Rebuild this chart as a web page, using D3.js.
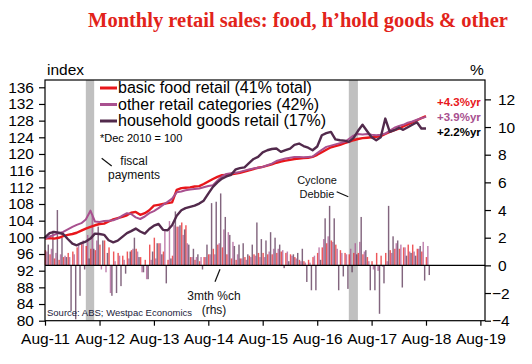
<!DOCTYPE html>
<html>
<head>
<meta charset="utf-8">
<script src="https://cdn.jsdelivr.net/npm/d3@7"></script>
<style>
  body { margin: 0; background: #fff; }
  svg { display: block; font-family: Arial, "Liberation Sans", sans-serif; }
</style>
</head>
<body>
<svg id="canvas" width="532" height="364"></svg>
<script>
// monthly index, Dec 2010 = 100, Aug-11 .. Aug-18
let foodIndex = [
  99.7, 99.8, 99.7, 99.9, 100.3, 100.6, 100.8, 101.1, 101.6, 102.1, 102.5, 102.9,
  103.2, 103.3, 103.8, 104.3, 104.6, 104.9, 105.3, 105.9, 106.1, 105.4, 105.8, 106.5,
  107.6, 107.8, 108.0, 108.2, 108.4, 111.4, 111.8, 111.9, 112.0, 112.2, 112.3, 112.8,
  113.4, 114.0, 114.5, 114.9, 115.0, 115.1, 115.3, 115.5, 115.8, 116.1, 116.4, 116.7,
  116.9, 117.2, 117.5, 117.9, 118.2, 118.4, 118.6, 118.8, 118.9, 119.0, 119.1, 119.3,
  119.8, 120.4, 121.0, 121.6, 121.9, 122.2, 122.6, 122.9, 123.3, 123.6, 123.8, 123.9,
  124.0, 124.1, 124.3, 124.8, 125.3, 125.7, 126.1, 126.6, 127.1, 127.6, 128.1, 128.6, 129.1
]
let otherIndex = [
  99.7, 100.2, 100.6, 101.0, 101.3, 101.9, 102.5, 103.0, 103.4, 104.3, 106.4, 103.8,
  103.7, 103.9, 104.0, 104.1, 104.5, 105.2, 105.8, 105.6, 104.8, 104.4, 105.0, 105.8,
  106.3, 107.0, 107.8, 108.5, 109.3, 110.8, 111.0, 111.3, 111.5, 111.6, 111.7, 112.0,
  112.3, 112.5, 113.6, 114.6, 115.2, 115.4, 115.5, 115.7, 116.0, 116.3, 116.5, 116.7,
  116.9, 117.3, 117.7, 118.3, 118.6, 118.9, 119.1, 119.3, 119.3, 119.2, 119.3, 119.4,
  120.2, 121.0, 121.7, 122.0, 122.3, 122.6, 122.9, 123.6, 124.4, 124.8, 124.7, 124.8,
  124.6, 124.5, 124.6, 124.9, 125.6, 126.3, 126.7, 127.0, 127.5, 127.8, 128.2, 128.6, 128.9
]
let householdIndex = [
  100.0, 101.0, 101.3, 101.1, 100.8, 99.6, 98.5, 98.1, 98.6, 99.0, 99.7, 100.9,
  100.8, 100.6, 99.3, 98.8, 99.2, 100.1, 101.0, 101.5, 102.1, 101.4, 100.9, 102.0,
  102.8, 103.2, 101.8, 101.7, 102.9, 105.2, 106.5, 107.0, 107.3, 107.6, 108.1, 108.8,
  110.5, 112.1, 113.2, 114.1, 114.6, 115.0, 116.3, 116.6, 116.8, 117.8, 118.8, 119.3,
  120.4, 120.9, 121.2, 121.3, 120.5, 120.9, 121.3, 122.2, 122.5, 121.9, 121.5, 120.9,
  121.8, 124.5, 125.0, 125.3, 123.5, 123.3, 123.2, 122.9, 123.8, 125.5, 127.0, 125.5,
  124.0, 123.3, 124.0, 128.5, 125.3, 125.7, 126.3, 125.8, 126.4, 127.0, 127.6, 126.1, 126.1
]

// 3mth %ch (rhs)
let foodChg = [
  1.1, 0.8, 0.5, 0.4, 0.6, 0.9, 1.0, 1.3, 1.6, 1.4, 1.2, 1.1,
  1.5, 1.8, 1.3, 1.0, 0.9, 0.7, 1.0, 1.1, 1.2, 0.6, 0.4, 1.5,
  2.0, 1.6, 1.0, 0.4, 0.7, 2.8, 3.1, 2.9, 0.6, 0.4, 0.3, 0.6,
  0.8, 1.2, 1.5, 1.3, 0.8, 0.5, 0.4, 0.5, 0.6, 0.7, 0.8, 0.9,
  0.9, 0.8, 0.8, 0.9, 1.0, 0.9, 0.8, 0.6, 0.4, 0.3, 0.4, 0.6,
  0.9, 1.3, 1.6, 1.8, 1.5, 1.1, 0.9, 0.8, 0.9, 0.9, 0.8, 0.6,
  0.3, 0.9, 0.7, 0.9, 1.1, 1.2, 1.2, 1.3, 1.5, 1.5, 1.2, 1.0, 0.6
]
let otherChg = [
  1.0, 1.2, 0.9, 0.8, 0.7, 0.6, 0.8, 1.5, 1.8, 2.2, 3.6, 1.8,
  -0.3, -0.5, -2.0, 0.3, 0.7, 0.4, 0.5, 1.2, 1.0, -0.5, -1.0, 0.4,
  0.5, 1.6, 2.5, 3.2, 2.9, 2.8, 2.2, 1.6, 0.6, 0.6, 0.6, 0.6,
  0.8, 0.8, 1.6, 2.6, 2.4, 1.7, 0.8, 0.5, 0.4, 0.6, 0.7, 0.6,
  0.6, 1.0, 1.2, 1.2, 1.1, 1.0, 0.7, 0.5, 0.3, 0.2, 0.2, 0.7,
  1.3, 1.9, 2.1, 1.7, 1.2, 0.9, 0.8, 1.2, 1.6, 1.7, 1.0, 0.3,
  -0.3, -0.4, -0.1, 0.3, 0.9, 1.6, 1.5, 1.3, 1.0, 1.0, 1.2, 1.7, 1.4
]
let householdChg = [
  1.5, 2.5, 4.0, 2.0, 0.6, -3.3, -3.9, -2.2, -0.3, 0.5, 1.2, 2.8,
  1.8, 0.9, -2.2, -2.0, -1.5, -0.6, 1.0, 2.0, 0.6, -0.5, -1.0, 1.0,
  1.6, 0.8, -1.3, 0.5, 3.9, 2.9, 2.6, 1.5, 1.2, 0.8, -0.3, 1.5,
  4.5, 4.6, 5.2, 3.5, 2.2, 1.4, 1.5, 1.6, 0.8, 1.5, 3.1, 1.9,
  1.8, 2.4, 2.0, 1.5, -0.2, 0.3, 0.8, 0.9, 1.2, -1.2, -1.8, -1.8,
  0.4, 3.4, 4.3, 3.4, -1.8, -0.8, -1.7, -0.5, 0.8, 3.5, 1.1, -1.8,
  -1.8, -3.5, -1.3, 4.3, 2.1, 1.8, -1.6, 0.7, 0.9, 0.7, 1.4, -1.1, -0.7
]

let seriesNames = ['basic food retail (41% total)', 'other retail categories (42%)', 'household goods retail (17%)']
let endLabels = ['+4.3%yr', '+3.9%yr', '+2.2%yr']
let xTickLabels = ['Aug-11', 'Aug-12', 'Aug-13', 'Aug-14', 'Aug-15', 'Aug-16', 'Aug-17', 'Aug-18', 'Aug-19']
let leftTicks = [80, 84, 88, 92, 96, 100, 104, 108, 112, 116, 120, 124, 128, 132, 136]
let rightTicks = [-4, -2, 0, 2, 4, 6, 8, 10, 12]
// shaded periods: fiscal payments, Cyclone Debbie
let shadeStart = ['2012-05-01', '2017-03-01']
let shadeEnd = ['2012-06-26', '2017-05-01']

let colors = ['#e8161b', '#a8508f', '#522a4c']

let svg = d3.select('#canvas')
let plotLeft = 45, plotRight = 485, plotTop = 80, plotBottom = 320.7

let months = foodIndex.map((d, i) => new Date(2011, 7 + i, 1))
let parse = d3.timeParse('%Y-%m-%d')

let xScale = d3.scaleTime()
  .domain([new Date(2011, 7, 1), new Date(2019, 8, 1)])
  .range([plotLeft, plotRight])
let yLeft = d3.scaleLinear().domain([80, 137.75]).range([plotBottom, plotTop])
let yRight = d3.scaleLinear().domain([-4, 13.4]).range([plotBottom, plotTop])

// shaded bands
svg.selectAll('.shade')
  .data(shadeStart)
  .enter()
  .append('rect')
  .attr('x', (d) => xScale(parse(d)))
  .attr('width', (d, i) => xScale(parse(shadeEnd[i])) - xScale(parse(d)))
  .attr('y', plotTop)
  .attr('height', plotBottom - plotTop)
  .attr('fill', '#c0c0c0')

// bars
let chg = [foodChg, otherChg, householdChg]
let sub = d3.scaleBand().domain([0, 1, 2]).range([-0.3, 4.0])
chg.forEach((arr, s) => {
  svg.append('g')
    .selectAll('rect')
    .data(arr)
    .enter()
    .append('rect')
    .attr('x', (d, i) => xScale(months[i]) + sub(s))
    .attr('width', sub.bandwidth())
    .attr('y', (d) => Math.min(yRight(d), yRight(0)))
    .attr('height', (d) => Math.abs(yRight(d) - yRight(0)))
    .attr('fill', colors[s])
    .attr('opacity', 0.72)
})

// zero line for bars
svg.append('line')
  .attr('x1', plotLeft).attr('x2', plotRight)
  .attr('y1', yRight(0)).attr('y2', yRight(0))
  .attr('stroke', '#000').attr('stroke-width', 1.2)

// index lines
let line = d3.line()
  .x((d, i) => xScale(months[i]))
  .y((d) => yLeft(d))
let indexes = [foodIndex, otherIndex, householdIndex]
let widths = [2.4, 2, 2.4]
indexes.forEach((arr, s) => {
  svg.append('path')
    .datum(arr)
    .attr('d', line)
    .attr('fill', 'none')
    .attr('stroke', colors[s])
    .attr('stroke-width', widths[s])
    .attr('stroke-linejoin', 'round')
})

// frame
svg.append('rect')
  .attr('x', plotLeft).attr('y', plotTop)
  .attr('width', plotRight - plotLeft).attr('height', plotBottom - plotTop)
  .attr('fill', 'none').attr('stroke', '#000').attr('stroke-width', 1.2)

// axes
let tickFont = (g) => {
  g.selectAll('text').attr('font-size', '15.5px').attr('fill', '#000')
    .attr('font-family', 'Arial, "Liberation Sans", sans-serif')
  g.select('.domain').remove()
  g.selectAll('line').attr('stroke', '#000').attr('stroke-width', 1.2)
}

svg.append('g')
  .attr('transform', 'translate(' + plotLeft + ',0)')
  .call(d3.axisLeft(yLeft).tickValues(leftTicks).tickSize(6).tickPadding(5))
  .call(tickFont)

svg.append('g')
  .attr('transform', 'translate(' + plotRight + ',0)')
  .call(d3.axisRight(yRight).tickValues(rightTicks).tickSize(6).tickPadding(7))
  .call(tickFont)
  .call((g) => g.selectAll('text').attr('dx', (d) => d < 0 ? -6 : 0))

let xTickDates = xTickLabels.map((d, i) => new Date(2011 + i, 7, 1))
svg.append('g')
  .attr('transform', 'translate(0,' + plotBottom + ')')
  .call(d3.axisBottom(xScale).tickValues(xTickDates).tickSize(5).tickPadding(7)
    .tickFormat((d, i) => xTickLabels[i]))
  .call(tickFont)

// title
svg.append('text')
  .attr('x', 298).attr('y', 27)
  .attr('text-anchor', 'middle')
  .attr('font-family', '"Liberation Serif", "Times New Roman", serif')
  .attr('font-weight', 'bold')
  .attr('font-size', '20.5px')
  .attr('fill', '#e2231a')
  .text('Monthly retail sales: food, h\u2019hold goods & other')

svg.append('text').attr('x', 47).attr('y', 75).attr('font-size', '15.5px').text('index')
svg.append('text').attr('x', 470).attr('y', 75).attr('font-size', '15.5px').text('%')

// legend
let legend = svg.append('g')
seriesNames.forEach((name, i) => {
  legend.append('line')
    .attr('x1', 100).attr('x2', 117)
    .attr('y1', 88 + i * 16.5).attr('y2', 88 + i * 16.5)
    .attr('stroke', colors[i]).attr('stroke-width', 3)
  legend.append('text')
    .attr('x', 118).attr('y', 93 + i * 16.5)
    .attr('font-size', '16px').attr('fill', '#000')
    .text(name)
})
svg.append('text').attr('x', 100).attr('y', 142).attr('font-size', '11px').text('*Dec 2010 = 100')

// end labels
endLabels.forEach((t, i) => {
  svg.append('text')
    .attr('x', 437).attr('y', 106 + i * 15)
    .attr('font-size', '11.5px').attr('font-weight', 'bold')
    .attr('fill', i === 2 ? '#000' : colors[i])
    .text(t)
})

// annotations
let note = (lines, x, y, size) => {
  let t = svg.append('text').attr('text-anchor', 'middle').attr('font-size', size).attr('fill', '#111')
  lines.forEach((l, i) => {
    t.append('tspan').attr('x', x).attr('y', y + i * 14).text(l)
  })
}
note(['fiscal', 'payments'], 134, 165, '12px')
note(['Cyclone', 'Debbie'], 317, 184, '11px')
note(['3mth %ch', '(rhs)'], 214, 300, '12px')

let pointer = (x1, y1, x2, y2) => {
  svg.append('line').attr('x1', x1).attr('y1', y1).attr('x2', x2).attr('y2', y2)
    .attr('stroke', '#111').attr('stroke-width', 1.2)
}
pointer(101.7, 158.3, 111.7, 166)
pointer(336.7, 191.7, 348.3, 196.7)
pointer(220, 269.3, 215, 281.7)

svg.append('text').attr('x', 47).attr('y', 316).attr('font-size', '9.5px').attr('fill', '#1a1a3a')
  .text('Source: ABS; Westpac Economics')
</script>
</body>
</html>
